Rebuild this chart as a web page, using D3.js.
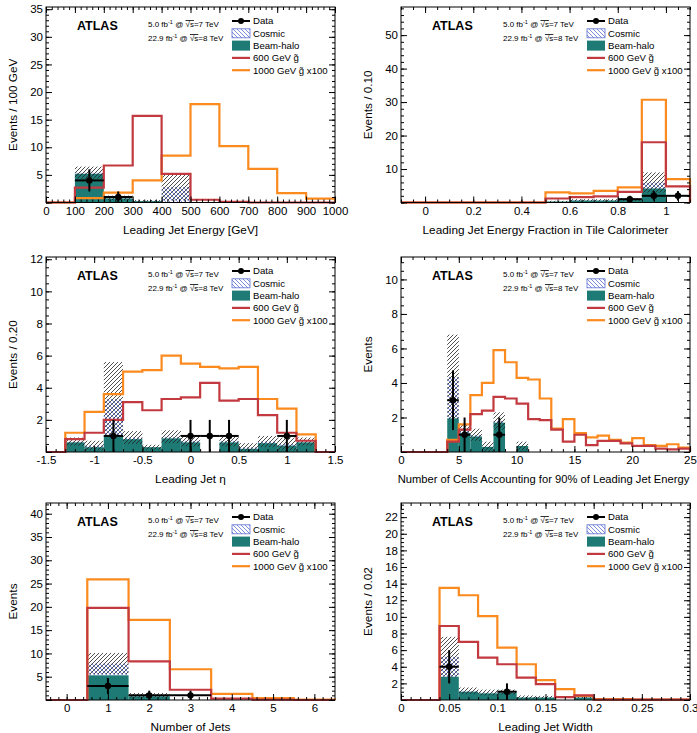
<!DOCTYPE html>
<html><head><meta charset="utf-8">
<script src="https://cdn.jsdelivr.net/npm/d3@7"></script>
<style>
body{margin:0;background:#fff}
text{font-family:"Liberation Sans",Arial,Helvetica,sans-serif;fill:#000}
</style>
</head><body>
<svg id="c" width="697" height="733"></svg>
<script>
// ---------------- DATA ----------------
// Panel 1: Leading jet energy
const energyEdges = [0,100,200,300,400,500,600,700,800,900,1000];
const energyHalo   = [0, 5.2, 0.75, 0.25, 0, 0, 0, 0, 0, 0];
const energyCosmic = [0, 0.2, 0.1, 0.05, 2.8, 0, 0, 0, 0, 0];
const energyErr    = [0, 1.1, 0.4, 0.15, 2.4, 0, 0, 0, 0, 0];
const energyG600   = [0, 2.7, 6.7, 15.7, 5.2, 0.5, 0.1, 0, 0, 0];
const energyG1000  = [0, 0.8, 1.8, 4.0, 8.5, 17.8, 10.2, 6.1, 1.7, 0.7];
const energyDataX = [150, 250];
const energyDataY = [4, 1];
const energyDataErr = [2, 1];
const energyXTicks = [0,100,200,300,400,500,600,700,800,900,1000];
const energyYTicks = [5,10,15,20,25,30,35];

// Panel 2: Energy fraction in Tile calorimeter
const tileEdges = [-0.1,0,0.1,0.2,0.3,0.4,0.5,0.6,0.7,0.8,0.9,1.0,1.1];
const tileHalo   = [0,0,0,0,0,0,0.3,0.6,0.6,0.8,4.2,0];
const tileCosmic = [0,0,0,0,0,0,0,0.1,0.1,0.1,1.8,0];
const tileErr    = [0,0,0,0,0,0,0.2,0.3,0.3,0.4,3.0,0];
const tileG600   = [0,0,0,0,0,0,1.2,1.6,1.8,3.2,18.0,4.8];
const tileG1000  = [0,0,0,0,0,0,3.0,2.7,3.5,4.5,30.7,7.0];
const tileDataX = [0.85, 0.95, 1.05];
const tileDataY = [1, 2, 2];
const tileDataErr = [1, 1.41, 1.41];
const tileXTicks = [0,0.2,0.4,0.6,0.8,1];
const tileYTicks = [10,20,30,40,50];

// Panel 3: Leading jet eta
const etaEdges = [-1.5,-1.3,-1.1,-0.9,-0.7,-0.5,-0.3,-0.1,0.1,0.3,0.5,0.7,0.9,1.1,1.3,1.5];
const etaHalo   = [0,0.6,0.3,1.0,0.8,0.3,0.85,0.6,0,0.6,0.2,0.55,0.4,0.6,0];
const etaCosmic = [0,0.05,0.1,2.3,0.1,0,0.1,0.1,0,0.1,0.1,0.1,0.1,0.05,0];
const etaErr    = [0,0.25,0.3,2.3,0.4,0.15,0.4,0.35,0,0.35,0.25,0.35,0.4,0.25,0];
const etaG600   = [0,0.8,1.2,2.0,3.1,2.6,3.3,3.4,4.3,3.2,3.3,2.3,1.2,0.7,0];
const etaG1000  = [0,1.2,2.5,3.6,5.0,5.1,6.0,5.5,5.3,5.2,5.3,3.3,2.7,1.1,0];
const etaDataX = [-0.8, 0, 0.2, 0.4, 1.0];
const etaDataY = [1, 1, 1, 1, 1];
const etaDataErr = [1, 1, 1, 1, 1];
const etaXTicks = [-1.5,-1,-0.5,0,0.5,1,1.5];
const etaYTicks = [2,4,6,8,10,12];

// Panel 4: Number of cells for 90% of leading jet energy
const cellsEdges = [0,1,2,3,4,5,6,7,8,9,10,11,12,13,14,15,16,17,18,19,20,21,22,23,24,25];
const cellsHalo   = [0,0,0,0,1.95,1.1,0.9,0.3,1.7,0,0.35,0,0,0,0,0,0,0,0,0,0,0,0,0,0];
const cellsCosmic = [0,0,0,0,2.4,0.2,0.1,0,0.1,0,0,0,0,0,0,0,0,0,0,0,0,0,0,0,0];
const cellsErr    = [0,0,0,0,2.45,0.3,0.35,0.3,0.5,0,0.25,0,0,0,0,0,0,0,0,0,0,0,0,0,0];
const cellsG600   = [0,0,0,0,0.6,1.3,2.2,2.4,3.2,3.1,2.8,1.9,1.85,1.3,0.6,1.0,0.4,0.65,0.65,0.5,0.35,0.35,0.2,0.15,0.2];
const cellsG1000  = [0,0,0,0,0.7,1.6,3.3,4.0,5.9,5.2,4.3,4.2,3.1,1.35,1.9,1.1,0.85,0.95,0.7,0.55,0.8,0.4,0.35,0.45,0.25];
const cellsDataX = [4.5, 5.5, 8.5];
const cellsDataY = [3, 1, 1];
const cellsDataErr = [1.73, 1, 1];
const cellsXTicks = [0,5,10,15,20,25];
const cellsYTicks = [2,4,6,8,10];

// Panel 5: Number of jets
const njEdges = [-0.5,0.5,1.5,2.5,3.5,4.5,5.5,6.5];
const njHalo   = [0,5.3,0.8,0,0,0,0];
const njCosmic = [0,2.5,0.2,0,0,0,0];
const njErr    = [0,2.3,0.5,0,0,0,0];
const njG600   = [0,19.8,8.3,2.2,0.3,0.1,0];
const njG1000  = [0,25.9,17.2,6.6,1.3,0.4,0.1];
const njDataX = [1, 2, 3];
const njDataY = [3, 1, 1];
const njDataErr = [1.73, 1, 1];
const njXTicks = [0,1,2,3,4,5,6];
const njYTicks = [5,10,15,20,25,30,35,40];

// Panel 6: Leading jet width
const widthEdges = [0,0.02,0.04,0.06,0.08,0.10,0.12,0.14,0.16,0.18,0.20,0.22,0.24,0.26,0.28,0.30];
const widthHalo   = [0,0,2.8,1.0,0.8,0.9,0.3,0.3,0,0.3,0,0,0,0,0];
const widthCosmic = [0,0,2.4,0.1,0.1,0.05,0.05,0.05,0,0.05,0,0,0,0,0];
const widthErr    = [0,0,2.4,0.4,0.35,0.3,0.2,0.15,0,0.1,0,0,0,0,0];
const widthG600   = [0,0,8.9,7.0,5.1,4.3,2.7,1.9,0.35,0.55,0.05,0.05,0.05,0.05,0.05];
const widthG1000  = [0,0,13.5,12.6,10.1,6.3,4.3,2.4,1.3,0.5,0.1,0.1,0.05,0.05,0.05];
const widthDataX = [0.05, 0.11];
const widthDataY = [4, 1];
const widthDataErr = [2, 1];
const widthXTicks = [0,0.05,0.1,0.15,0.2,0.25,0.3];
const widthYTicks = [2,4,6,8,10,12,14,16,18,20,22];

const legendLabels = ["Data","Cosmic","Beam-halo","600 GeV g\u0303","1000 GeV g\u0303 x100"];

// ---------------- STYLE ----------------
const TEAL = "#1d7a74", RED = "#c23a3f", ORANGE = "#fb8a1f", BLUE = "#5a6fd0";

const svg = d3.select("#c");
const defs = svg.append("defs");
function hatch(id, color, d, sw) {
  const p = defs.append("pattern").attr("id", id).attr("patternUnits","userSpaceOnUse")
    .attr("width",4).attr("height",4);
  p.append("path").attr("d", d).attr("stroke", color).attr("stroke-width", sw).attr("fill","none");
}
hatch("blk", "#222", "M-1,1 L1,-1 M0,4 L4,0 M3,5 L5,3", 0.8);
hatch("blu", BLUE, "M-1,3 L1,5 M0,0 L4,4 M3,-1 L5,1", 0.8);

function minorTicks(dom, step) {
  const out = [];
  const n0 = Math.ceil(dom[0]/step - 1e-6), n1 = Math.floor(dom[1]/step + 1e-6);
  for (let k = n0; k <= n1; k++) out.push(+(k*step).toFixed(6));
  return out;
}
const fmt = d => String(+(+d).toFixed(4));

function panel(c) {
  const g = svg.append("g");
  const x = d3.scaleLinear().domain(c.xdom).range([c.L, c.R]);
  const y = d3.scaleLinear().domain([0, c.ymax]).range([c.B, c.T]);
  const id = "clip" + c.L + "_" + c.T;
  defs.append("clipPath").attr("id", id).append("rect")
    .attr("x", c.L).attr("y", c.T).attr("width", c.R - c.L).attr("height", c.B - c.T);
  const plot = g.append("g").attr("clip-path", `url(#${id})`);

  const bins = c.halo.map((h, i) => ({x0: c.edges[i], x1: c.edges[i+1], h, cs: c.cosmic[i], e: c.err[i]}));
  const w = b => x(b.x1) - x(b.x0);
  plot.selectAll("rect.halo").data(bins.filter(b => b.h > 0)).join("rect")
    .attr("x", b => x(b.x0)).attr("width", w)
    .attr("y", b => y(b.h)).attr("height", b => y(0) - y(b.h)).attr("fill", TEAL);
  plot.selectAll("rect.cos").data(bins.filter(b => b.cs > 0)).join("rect")
    .attr("x", b => x(b.x0)).attr("width", w)
    .attr("y", b => y(b.h + b.cs)).attr("height", b => y(b.h) - y(b.h + b.cs)).attr("fill", "url(#blu)");
  plot.selectAll("rect.band").data(bins.filter(b => b.e > 0)).join("rect")
    .attr("x", b => x(b.x0)).attr("width", w)
    .attr("y", b => y(b.h + b.cs + b.e))
    .attr("height", b => y(Math.max(0, b.h + b.cs - b.e)) - y(b.h + b.cs + b.e))
    .attr("fill", "url(#blk)");

  const line = d3.line();
  function step(vals) {
    const pts = [[x(c.edges[0]), y(0)]];
    vals.forEach((v, i) => { pts.push([x(c.edges[i]), y(v)]); pts.push([x(c.edges[i+1]), y(v)]); });
    pts.push([x(c.edges[c.edges.length-1]), y(0)]);
    return line(pts);
  }
  g.append("path").attr("d", step(c.g1000)).attr("fill","none").attr("stroke", ORANGE).attr("stroke-width", 2.2);
  g.append("path").attr("d", step(c.g600)).attr("fill","none").attr("stroke", RED).attr("stroke-width", 2.2);

  // data
  const dg = g.append("g");
  c.dx.forEach((xv, i) => {
    const yv = c.dy[i], e = c.de[i];
    dg.append("line").attr("x1", x(xv - c.hw)).attr("x2", x(xv + c.hw)).attr("y1", y(yv)).attr("y2", y(yv))
      .attr("stroke","#000").attr("stroke-width",2);
    dg.append("line").attr("x1", x(xv)).attr("x2", x(xv)).attr("y1", y(Math.max(0,yv - e))).attr("y2", y(yv + e))
      .attr("stroke","#000").attr("stroke-width",2);
    dg.append("circle").attr("cx", x(xv)).attr("cy", y(yv)).attr("r", 3.2).attr("fill","#000");
  });

  // axes
  const MJ = 6, MN = 3;
  function ax(gen, scale, vals, size, labels, tx) {
    const a = gen(scale).tickValues(vals).tickSizeInner(-size).tickSizeOuter(0);
    if (labels) a.tickFormat(fmt).tickPadding(labels); else a.tickFormat("");
    const s = g.append("g").attr("transform", tx).call(a);
    s.select(".domain").remove();
    s.selectAll("line").attr("stroke","#000").attr("stroke-width",1);
    s.selectAll("text").attr("font-size", "11.5px").attr("font-family", '"Liberation Sans",Arial,sans-serif');
    return s;
  }
  const xm = minorTicks(c.xdom, c.xminor), ym = minorTicks([0, c.ymax], c.yminor);
  const xM = minorTicks(c.xdom, c.xmajorStep), yM = minorTicks([0, c.ymax], c.ymajorStep);
  ax(d3.axisBottom, x, xM, MJ, 0, `translate(0,${c.B})`);
  ax(d3.axisBottom, x, xm, MN, 0, `translate(0,${c.B})`);
  ax(d3.axisBottom, x, c.xticks, 0, 4, `translate(0,${c.B})`);
  ax(d3.axisTop, x, xM, MJ, 0, `translate(0,${c.T})`);
  ax(d3.axisTop, x, xm, MN, 0, `translate(0,${c.T})`);
  ax(d3.axisLeft, y, yM, MJ, 0, `translate(${c.L},0)`);
  ax(d3.axisLeft, y, ym, MN, 0, `translate(${c.L},0)`);
  ax(d3.axisLeft, y, c.yticks, 0, 3, `translate(${c.L},0)`);
  ax(d3.axisRight, y, yM, MJ, 0, `translate(${c.R},0)`);
  ax(d3.axisRight, y, ym, MN, 0, `translate(${c.R},0)`);

  g.append("rect").attr("x", c.L).attr("y", c.T).attr("width", c.R - c.L).attr("height", c.B - c.T)
    .attr("fill","none").attr("stroke","#000").attr("stroke-width",1);

  // titles
  g.append("text").attr("x", (c.L + c.R)/2 + (c.xtitleShift || 0)).attr("y", c.B + 31).attr("text-anchor","middle")
    .attr("font-size", (c.xtitleSize || 11.8) + "px").text(c.xtitle);
  g.append("text").attr("transform", `translate(${c.L - 29},${(c.T + c.B)/2}) rotate(-90)`)
    .attr("text-anchor","middle").attr("font-size","11.8px").text(c.ytitle);

  // ATLAS label + lumi
  g.append("text").attr("x", c.L + 31).attr("y", c.T + 22.5).attr("font-size","12.5px")
    .attr("font-weight","bold").text("ATLAS");
  const lumi = [["5.0","7"],["22.9","8"]];
  lumi.forEach((l, i) => {
    const t = g.append("text").attr("x", c.L + 102).attr("y", c.T + 20 + i*14).attr("font-size","8px");
    t.append("tspan").text(l[0] + " fb");
    t.append("tspan").attr("dy", -3).attr("font-size","5.5px").text("-1");
    t.append("tspan").attr("dy", 3).text(" @ ");
    t.append("tspan").text("\u221As").attr("text-decoration","overline");
    t.append("tspan").text("=" + l[1] + " TeV");
  });

  // legend
  const lx = c.L + 186, ly = c.T + 14, dyL = 12.3;
  const lg = g.append("g");
  legendLabels.forEach((lab, i) => {
    const yy = ly + i*dyL;
    if (i === 0) {
      lg.append("line").attr("x1", lx).attr("x2", lx + 18).attr("y1", yy).attr("y2", yy).attr("stroke","#000").attr("stroke-width",2);
      lg.append("circle").attr("cx", lx + 9).attr("cy", yy).attr("r", 3).attr("fill","#000");
    } else if (i === 1) {
      lg.append("rect").attr("x", lx).attr("y", yy - 4.5).attr("width", 18).attr("height", 9)
        .attr("fill","url(#blu)").attr("stroke", BLUE).attr("stroke-width",0.8);
    } else if (i === 2) {
      lg.append("rect").attr("x", lx).attr("y", yy - 5).attr("width", 18).attr("height", 10).attr("fill", TEAL);
    } else {
      lg.append("line").attr("x1", lx).attr("x2", lx + 18).attr("y1", yy).attr("y2", yy)
        .attr("stroke", i === 3 ? RED : ORANGE).attr("stroke-width",2.2);
    }
    lg.append("text").attr("x", lx + 21).attr("y", yy + 3.4).attr("font-size","9.6px").text(lab);
  });
}

const colL = [46, 401], colR = [335, 690];
const rowT = [7, 257, 503], rowB = [202.5, 452, 700];

panel({L: colL[0], R: colR[0], T: rowT[0], B: rowB[0], xdom: [0,1000], ymax: 35.4,
  edges: energyEdges, halo: energyHalo, cosmic: energyCosmic, err: energyErr, g600: energyG600, g1000: energyG1000,
  dx: energyDataX, dy: energyDataY, de: energyDataErr, hw: 50,
  xticks: energyXTicks, yticks: energyYTicks, xmajorStep: 100, xminor: 20, ymajorStep: 5, yminor: 1,
  xtitle: "Leading Jet Energy [GeV]", ytitle: "Events / 100 GeV"});
panel({L: colL[1], R: colR[1], T: rowT[0], B: rowB[0], xdom: [-0.1,1.1], ymax: 58.4,
  edges: tileEdges, halo: tileHalo, cosmic: tileCosmic, err: tileErr, g600: tileG600, g1000: tileG1000,
  dx: tileDataX, dy: tileDataY, de: tileDataErr, hw: 0.05,
  xticks: tileXTicks, yticks: tileYTicks, xmajorStep: 0.2, xminor: 0.05, ymajorStep: 10, yminor: 2,
  xtitle: "Leading Jet Energy Fraction in Tile Calorimeter", ytitle: "Events / 0.10"});
panel({L: colL[0], R: colR[0], T: rowT[1], B: rowB[1], xdom: [-1.5,1.5], ymax: 12.14,
  edges: etaEdges, halo: etaHalo, cosmic: etaCosmic, err: etaErr, g600: etaG600, g1000: etaG1000,
  dx: etaDataX, dy: etaDataY, de: etaDataErr, hw: 0.1,
  xticks: etaXTicks, yticks: etaYTicks, xmajorStep: 0.5, xminor: 0.1, ymajorStep: 2, yminor: 0.5,
  xtitle: "Leading Jet \u03B7", ytitle: "Events / 0.20"});
panel({L: colL[1], R: colR[1], T: rowT[1], B: rowB[1], xdom: [0,25], ymax: 11.3,
  edges: cellsEdges, halo: cellsHalo, cosmic: cellsCosmic, err: cellsErr, g600: cellsG600, g1000: cellsG1000,
  dx: cellsDataX, dy: cellsDataY, de: cellsDataErr, hw: 0.5,
  xticks: cellsXTicks, yticks: cellsYTicks, xmajorStep: 5, xminor: 1, ymajorStep: 2, yminor: 0.5,
  xtitle: "Number of Cells Accounting for 90% of Leading Jet Energy", ytitle: "Events",
  xtitleSize: 11.2, xtitleShift: -2});
panel({L: colL[0], R: colR[0], T: rowT[2], B: rowB[2], xdom: [-0.5,6.5], ymax: 42.3,
  edges: njEdges, halo: njHalo, cosmic: njCosmic, err: njErr, g600: njG600, g1000: njG1000,
  dx: njDataX, dy: njDataY, de: njDataErr, hw: 0.5,
  xticks: njXTicks, yticks: njYTicks, xmajorStep: 1, xminor: 0.2, ymajorStep: 5, yminor: 1,
  xtitle: "Number of Jets", ytitle: "Events"});
panel({L: colL[1], R: colR[1], T: rowT[2], B: rowB[2], xdom: [0,0.3], ymax: 23.7,
  edges: widthEdges, halo: widthHalo, cosmic: widthCosmic, err: widthErr, g600: widthG600, g1000: widthG1000,
  dx: widthDataX, dy: widthDataY, de: widthDataErr, hw: 0.01,
  xticks: widthXTicks, yticks: widthYTicks, xmajorStep: 0.05, xminor: 0.01, ymajorStep: 2, yminor: 0.5,
  xtitle: "Leading Jet Width", ytitle: "Events / 0.02"});
</script>
</body></html>
